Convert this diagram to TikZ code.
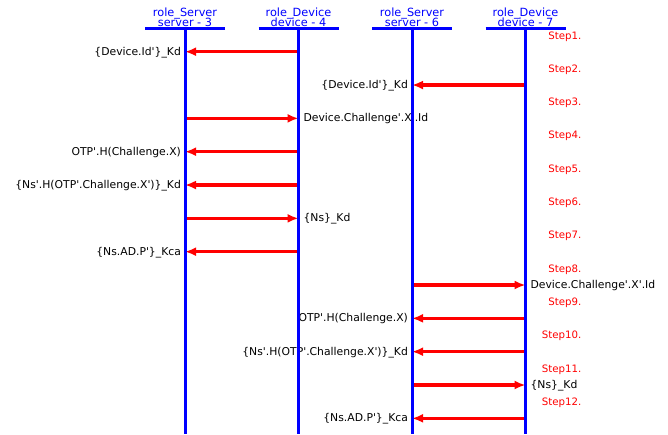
\documentclass[tikz,border=0pt]{standalone}
\usepackage{fontspec}
\newfontfamily\dv{DejaVu Sans}
\usetikzlibrary{arrows.meta}
\definecolor{lblue}{RGB}{0,0,255}
\definecolor{lred}{RGB}{255,0,0}
\begin{document}
\begin{tikzpicture}[x=1pt,y=-1pt,
  hdr/.style={font=\dv\fontsize{11.3}{11}\selectfont, text=lblue, anchor=base, inner sep=0pt},
  bar/.style={draw=lblue, line width=2.6pt},
  life/.style={draw=lblue, line width=3pt},
  msg/.style={draw=lred, line width=3.2pt, -{Latex[length=11pt,width=9pt]}},
  lblL/.style={font=\dv\fontsize{10.8}{12}\selectfont, text=black, anchor=base east, inner sep=0pt, xshift=-2.5pt, yshift=-3.6pt},
  lblR/.style={font=\dv\fontsize{10.8}{12}\selectfont, text=black, anchor=base west, inner sep=0pt, xshift=3.5pt, yshift=-3.6pt},
  steplbl/.style={font=\dv\fontsize{10.2}{12}\selectfont, text=lred, anchor=base east, inner sep=0pt}]
\useasboundingbox (0,0) rectangle (668,434);
% headers
\node[hdr] (h1a) at (185,16) {role\_Server};
\node[hdr] (h1b) at (185,26) {server - 3};
\node[hdr] (h2a) at (298.5,16) {role\_Device};
\node[hdr] (h2b) at (298.5,26) {device - 4};
\node[hdr] (h3a) at (412,16) {role\_Server};
\node[hdr] (h3b) at (412,26) {server - 6};
\node[hdr] (h4a) at (525.5,16) {role\_Device};
\node[hdr] (h4b) at (525.5,26) {device - 7};
\coordinate (L1) at (185,28.5);
\coordinate (L2) at (298.5,28.5);
\coordinate (L3) at (412,28.5);
\coordinate (L4) at (525.5,28.5);
\coordinate (B1) at (185,434);
\coordinate (B2) at (298.5,434);
\coordinate (B3) at (412,434);
\coordinate (B4) at (525.5,434);
% rows and step labels
\foreach \k in {1,...,12}{
  \coordinate (R\k) at (0,{51.7+33.33*(\k-1)});
  \node[steplbl] (st\k) at (581.5,{39+33.33*(\k-1)}) {Step\k.};
}
% messages
\draw[msg] (L2|-R1) -- (L1|-R1) node[lblL] (m1) {\{Device.Id'\}\_Kd};
\draw[msg] (L4|-R2) -- (L3|-R2) node[lblL] (m2) {\{Device.Id'\}\_Kd};
\draw[msg] (L1|-R3) -- (L2|-R3) node[lblR] (m3) {Device.Challenge'.X'.Id};
\draw[msg] (L2|-R4) -- (L1|-R4) node[lblL] (m4) {OTP'.H(Challenge.X)};
\draw[msg] (L2|-R5) -- (L1|-R5) node[lblL] (m5) {\{Ns'.H(OTP'.Challenge.X')\}\_Kd};
\draw[msg] (L1|-R6) -- (L2|-R6) node[lblR] (m6) {\{Ns\}\_Kd};
\draw[msg] (L2|-R7) -- (L1|-R7) node[lblL] (m7) {\{Ns.AD.P'\}\_Kca};
\draw[msg] (L3|-R8) -- (L4|-R8) node[lblR] (m8) {Device.Challenge'.X'.Id};
\draw[msg] (L4|-R9) -- (L3|-R9) node[lblL] (m9) {OTP'.H(Challenge.X)};
\draw[msg] (L4|-R10) -- (L3|-R10) node[lblL] (m10) {\{Ns'.H(OTP'.Challenge.X')\}\_Kd};
\draw[msg] (L3|-R11) -- (L4|-R11) node[lblR] (m11) {\{Ns\}\_Kd};
\draw[msg] (L4|-R12) -- (L3|-R12) node[lblL] (m12) {\{Ns.AD.P'\}\_Kca};
% lifelines and header bars
\foreach \i in {1,2,3,4}{
  \draw[life] (L\i) -- (B\i);
  \draw[bar] ([xshift=-40pt]L\i) -- ([xshift=40pt]L\i);
}
\end{tikzpicture}
\end{document}
